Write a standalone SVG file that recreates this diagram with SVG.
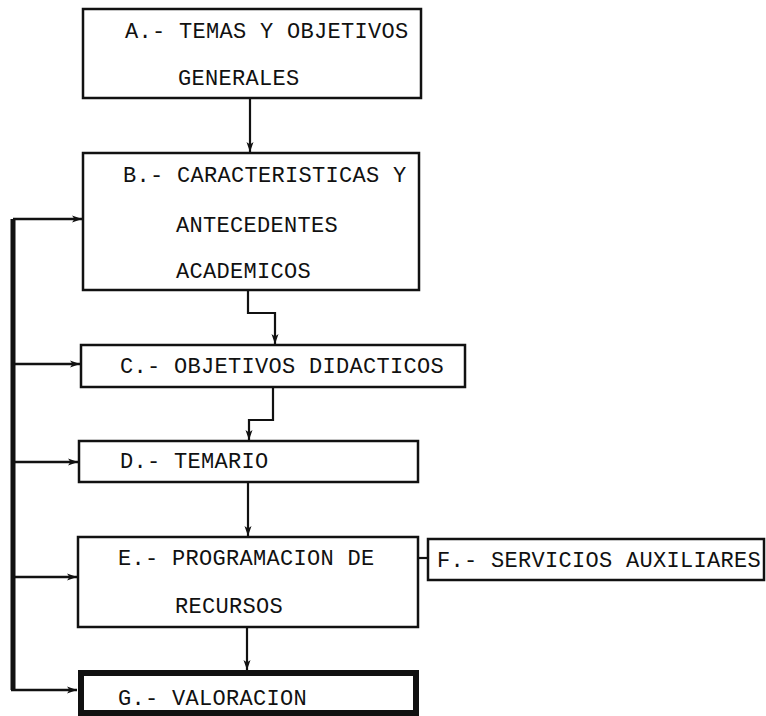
<svg xmlns="http://www.w3.org/2000/svg" width="766" height="716" viewBox="0 0 766 716">
  <defs>
    <style>
      .box { fill: #ffffff; stroke: #111111; stroke-width: 2.5; }
      .thick { stroke-width: 6; }
      .lbl { font-family: "Liberation Mono", "DejaVu Sans Mono", monospace; font-size: 22px; letter-spacing: 0.3px; fill: #111111; }
      .con { fill: none; stroke: #111111; stroke-width: 2.2; }
      .fb { fill: none; stroke: #111111; stroke-width: 2.5; }
      .fbv { fill: none; stroke: #111111; stroke-width: 5; stroke-linejoin: miter; }
    </style>
    <marker id="arr" markerUnits="userSpaceOnUse" markerWidth="12" markerHeight="10" refX="10" refY="5" orient="auto">
      <path d="M0,1.5 L10,5 L0,8.5 L2.5,5 Z" fill="#111111"/>
    </marker>
  </defs>
  <rect width="766" height="716" fill="#ffffff"/>

  <g id="connectors">
    <line class="con" x1="250" y1="99" x2="250" y2="152" marker-end="url(#arr)"/>
    <polyline class="con" points="248,290 248,313 275,313 275,344" marker-end="url(#arr)"/>
    <polyline class="con" points="273,387 273,420 249,420 249,440" marker-end="url(#arr)"/>
    <line class="con" x1="248" y1="482" x2="248" y2="536" marker-end="url(#arr)"/>
    <line class="con" x1="418" y1="558" x2="428" y2="558"/>
    <line class="con" x1="247" y1="627" x2="247" y2="670" marker-end="url(#arr)"/>
    <polyline class="fbv" points="13,219 13,690"/>
    <polyline class="fb" points="13,219 82,219" marker-end="url(#arr)"/>
    <line class="fb" x1="13" y1="364" x2="80" y2="364" marker-end="url(#arr)"/>
    <line class="fb" x1="13" y1="462" x2="78" y2="462" marker-end="url(#arr)"/>
    <line class="fb" x1="13" y1="577" x2="77" y2="577" marker-end="url(#arr)"/>
    <line class="fb" x1="11" y1="690" x2="77" y2="690" marker-end="url(#arr)"/>
  </g>

  <g id="A">
    <rect class="box" x="83" y="9" width="338" height="89"/>
    <text class="lbl" x="125" y="38">A.- TEMAS Y OBJETIVOS</text>
    <text class="lbl" x="178" y="85">GENERALES</text>
  </g>
  <g id="B">
    <rect class="box" x="83" y="153" width="336" height="137"/>
    <text class="lbl" x="123" y="182">B.- CARACTERISTICAS Y</text>
    <text class="lbl" x="176" y="232">ANTECEDENTES</text>
    <text class="lbl" x="176" y="278">ACADEMICOS</text>
  </g>
  <g id="C">
    <rect class="box" x="81" y="345" width="384" height="42"/>
    <text class="lbl" x="120" y="373">C.- OBJETIVOS DIDACTICOS</text>
  </g>
  <g id="D">
    <rect class="box" x="79" y="441" width="339" height="41"/>
    <text class="lbl" x="120" y="468">D.- TEMARIO</text>
  </g>
  <g id="E">
    <rect class="box" x="78" y="537" width="340" height="90"/>
    <text class="lbl" x="118" y="565">E.- PROGRAMACION DE</text>
    <text class="lbl" x="175" y="613">RECURSOS</text>
  </g>
  <g id="F">
    <rect class="box" x="428" y="539" width="336" height="41"/>
    <text class="lbl" x="437" y="567">F.- SERVICIOS AUXILIARES</text>
  </g>
  <g id="G">
    <rect class="box thick" x="81" y="673" width="335" height="40"/>
    <text class="lbl" x="118" y="705">G.- VALORACION</text>
  </g>
</svg>
